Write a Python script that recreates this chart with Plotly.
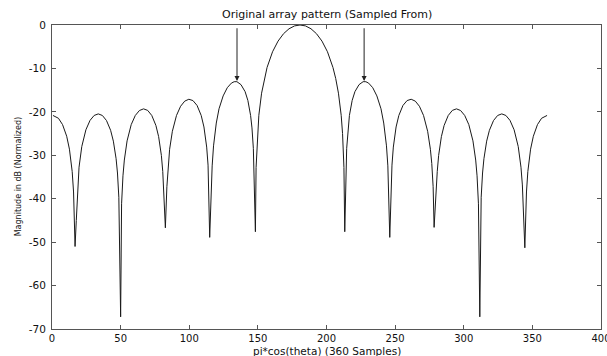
import plotly.graph_objects as go

# Sampled array pattern
psi_samples = [
    0.7, 4.7, 7.7, 10.7, 12.7, 14.7, 15.7, 16.8, 17.7, 18.7, 19.7, 21.7, 24.7, 27.7,
    30.7, 33.7, 36.7, 39.7, 42.7, 44.7, 46.7, 47.7, 48.7, 50.0, 50.7, 51.7, 52.7, 54.7,
    57.7, 60.7, 63.7, 66.7, 69.7, 72.7, 75.7, 77.7, 79.7, 80.7, 82.6, 83.7, 84.7, 85.7,
    87.7, 90.7, 93.7, 96.7, 99.7, 102.7, 105.7, 108.7, 110.7, 112.7, 113.7, 114.9, 116.7,
    117.7, 119.7, 121.7, 124.7, 127.7, 130.7, 132.7, 134.7, 137.7, 140.7, 142.7, 144.7,
    145.7, 146.7, 148.2, 148.7, 149.7, 150.7, 152.7, 154.7, 156.7, 160.7, 164.7, 168.7,
    172.7, 176.7, 180.7,
    184.7, 188.7, 192.7, 196.7, 200.7, 204.7, 206.7, 208.7, 210.7, 211.7, 212.7, 213.3,
    214.7, 215.7, 216.7, 218.7, 220.7, 223.7, 226.7, 228.7, 230.7, 233.7, 236.7, 239.7,
    241.7, 243.7, 244.7, 246.1, 247.7, 248.7, 250.7, 252.7, 255.7, 258.7, 261.7, 264.7,
    267.7, 270.7, 273.7, 275.7, 276.7, 277.7, 278.4, 280.7, 281.7, 283.7, 285.7, 288.7,
    291.7, 294.7, 297.7, 300.7, 303.7, 306.7, 308.7, 309.7, 310.7, 311.7, 312.7, 313.7,
    314.7, 316.7, 318.7, 321.7, 324.7, 327.7, 330.7, 333.7, 336.7, 339.7, 341.7, 342.7,
    343.7, 344.5, 345.7, 346.7, 348.7, 350.7, 353.7, 356.7, 360.7,
]

magnitude_db = [
    -20.83, -21.48, -22.94, -25.62, -28.59, -33.72, -38.45, -51.0, -45.0, -36.83, -32.74,
    -28.00, -24.13, -21.97, -20.83, -20.47, -20.83, -22.00, -24.25, -26.74, -30.79, -34.08,
    -39.66, -67.2, -41.17, -34.73, -31.10, -26.68, -22.95, -20.83, -19.69, -19.31, -19.66,
    -20.83, -23.13, -25.71, -30.04, -33.72, -46.7, -37.24, -31.89, -28.62, -24.47, -20.83,
    -18.71, -17.53, -17.10, -17.40, -18.53, -20.83, -23.48, -28.11, -32.27, -48.9, -32.44,
    -27.83, -22.58, -19.29, -16.33, -14.44, -13.38, -13.06, -13.05, -13.74, -15.35, -17.37,
    -20.83, -23.7, -28.4, -47.6, -32.8, -25.0, -20.8, -15.7, -12.3, -9.77, -6.16, -3.71,
    -2.00, -0.87, -0.21, 0.0,
    -0.21, -0.87, -2.00, -3.71, -6.16, -9.77, -12.3, -15.7, -20.8, -25.0, -32.8, -47.6,
    -28.4, -23.7, -20.83, -17.37, -15.35, -13.74, -13.05, -13.06, -13.38, -14.44, -16.33,
    -19.29, -22.58, -27.83, -32.44, -48.9, -32.27, -28.11, -23.48, -20.83, -18.53, -17.40,
    -17.10, -17.53, -18.71, -20.83, -24.47, -28.62, -31.89, -37.24, -46.6, -33.72, -30.04,
    -25.71, -23.13, -20.83, -19.66, -19.31, -19.69, -20.83, -22.95, -26.68, -31.10, -34.73,
    -41.17, -67.2, -39.66, -34.08, -30.79, -26.74, -24.25, -22.00, -20.83, -20.47, -20.83,
    -21.97, -24.13, -28.00, -32.74, -36.83, -45.0, -51.3, -38.45, -33.72, -28.59, -25.62,
    -22.94, -21.48, -20.83,
]

# Arrow targets (first sidelobes) and tails
arrow_tip_x = [134.8, 227.4]
arrow_tip_y = [-12.9, -12.9]
arrow_tail_y = [-0.4, -0.4]

x_ticks = [0, 50, 100, 150, 200, 250, 300, 350, 400]
y_ticks = [0, -10, -20, -30, -40, -50, -60, -70]

title_text = "Original array pattern (Sampled From)"
x_title = "pi*cos(theta) (360 Samples)"
y_title = "Magnitude in dB (Normalized)"

FONT = "DejaVu Sans"
AXIS_COLOR = "#555555"
TEXT_COLOR = "#111111"

fig = go.Figure()
fig.add_trace(go.Scatter(
    x=psi_samples, y=magnitude_db, mode="lines",
    line=dict(color="#1a1a1a", width=1), showlegend=False, hoverinfo="skip",
))

axis_common = dict(
    showgrid=False, zeroline=False, showline=True, linecolor=AXIS_COLOR, linewidth=1,
    mirror="ticks", ticks="inside", ticklen=4, tickcolor=AXIS_COLOR, tickwidth=1,
    ticklabeloverflow="allow", automargin=False,
)

fig.update_xaxes(range=[0, 400], tickvals=x_ticks, ticktext=[str(v) for v in x_ticks],
                 ticklabelstandoff=0,
                 tickfont=dict(family=FONT, size=10, color=TEXT_COLOR), **axis_common)
fig.update_yaxes(range=[-70, 0], tickvals=y_ticks, ticktext=[str(v) for v in y_ticks],
                 ticklabelstandoff=3,
                 tickfont=dict(family=FONT, size=10.5, color=TEXT_COLOR), **axis_common)

annotations = []
for tx, ty, ay in zip(arrow_tip_x, arrow_tip_y, arrow_tail_y):
    annotations.append(dict(
        x=tx, y=ty, xref="x", yref="y", ax=tx, ay=ay, axref="x", ayref="y",
        text="", showarrow=True, arrowhead=2, arrowsize=1, arrowwidth=1,
        arrowcolor="#222222",
    ))
annotations.append(dict(
    x=0.5, y=1.033, xref="paper", yref="paper", text=title_text, showarrow=False,
    xanchor="center", yanchor="middle", font=dict(family=FONT, size=11, color=TEXT_COLOR),
))
annotations.append(dict(
    x=0.5, y=-0.072, xref="paper", yref="paper", text=x_title, showarrow=False,
    xanchor="center", yanchor="middle", borderpad=0,
    font=dict(family=FONT, size=10.5, color=TEXT_COLOR),
))
annotations.append(dict(
    x=-0.0614, y=0.5, xref="paper", yref="paper", text=y_title, showarrow=False,
    textangle=-90, xanchor="center", yanchor="middle",
    font=dict(family=FONT, size=8, color=TEXT_COLOR),
))

fig.update_layout(
    width=607, height=356,
    margin=dict(l=52, r=6, t=25, b=27, pad=0),
    paper_bgcolor="white", plot_bgcolor="white",
    annotations=annotations,
)

fig.write_html("out.html")
